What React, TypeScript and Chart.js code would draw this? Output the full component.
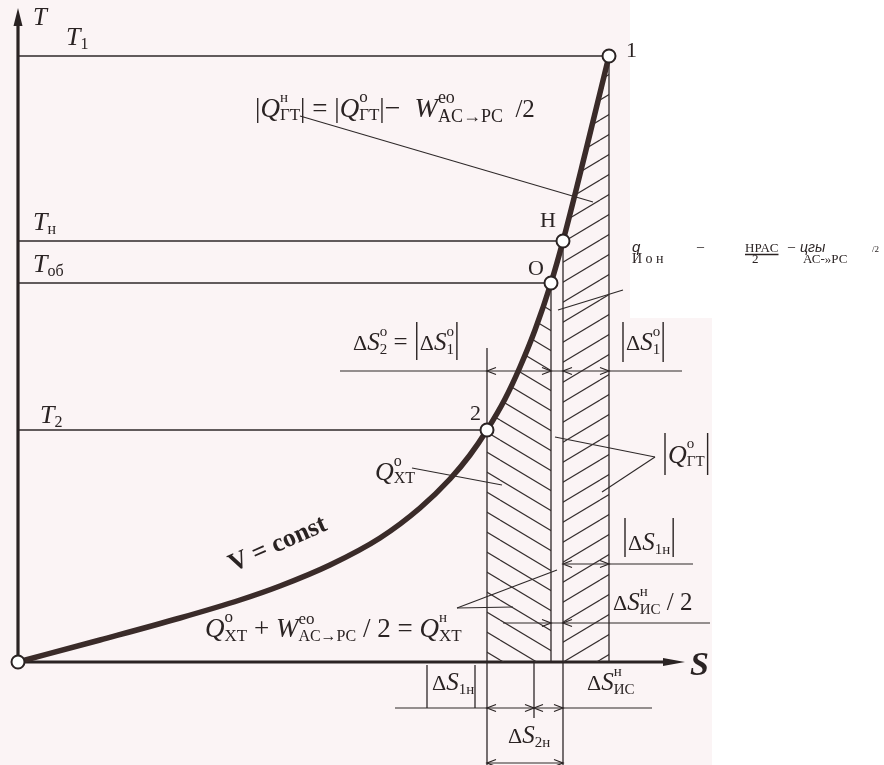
import React, { useEffect, useRef } from 'react';
import { Chart, registerables } from 'chart.js';

Chart.register(...registerables);

// ---------- data (T–S diagram, arbitrary units) ----------
const curveS = [0, 0.82, 1.62, 2.22, 2.62, 3.12, 3.62, 4.02, 4.32, 4.52, 4.69, 4.87, 5.02, 5.17, 5.33, 5.45, 5.68, 5.91];
const curveT = [0, 0.22, 0.44, 0.62, 0.76, 0.97, 1.24, 1.54, 1.83, 2.07, 2.32, 2.63, 2.95, 3.32, 3.79, 4.21, 5.12, 6.06];

const keyLabels = ['', '2', 'O', 'H', '1'];
const keyS = [0, 4.69, 5.33, 5.45, 5.91];
const keyT = [0, 2.32, 3.79, 4.21, 6.06];

const levelSub = ['1', 'н', 'об', '2'];
const levelT = [6.06, 4.21, 3.79, 2.32];
const levelEndS = [5.91, 5.45, 5.33, 4.69];

const axisTopT = 6.46;
const axisEndS = 6.55;
const axisTipT = 6.54;
const axisTipS = 6.67;

// vertical guide lines
const guideS = [4.69, 5.33, 5.45, 5.91, 5.16, 4.09, 4.57];
const guideTop = [3.14, 3.79, 4.21, 6.06, 0, -0.03, -0.03];
const guideBottom = [-1.03, 0, -1.03, 0, -0.56, -0.46, -0.46];

// dimension lines
const dimT = [2.91, 0.98, 0.39, -0.46, -1.01];
const dimFrom = [3.22, 5.47, 4.85, 3.77, 4.69];
const dimTo = [6.64, 6.75, 6.92, 6.34, 5.45];

// arrowheads on dimension lines (dir: +1 tip points right, -1 tip points left)
const arrowS = [4.69, 5.33, 5.45, 5.91, 5.45, 5.91, 5.33, 5.45, 4.69, 5.16, 5.16, 5.45, 4.69, 5.45];
const arrowT = [2.91, 2.91, 2.91, 2.91, 0.98, 0.98, 0.39, 0.39, -0.46, -0.46, -0.46, -0.46, -1.01, -1.01];
const arrowDir = [-1, 1, -1, 1, -1, 1, 1, -1, -1, 1, -1, 1, -1, 1];

// leader lines
const leaderS0 = [2.82, 3.94, 4.39, 4.39, 6.37, 6.37, 6.05];
const leaderT0 = [5.46, 1.94, 0.54, 0.54, 2.05, 2.05, 3.72];
const leaderS1 = [5.75, 4.84, 5.39, 4.95, 5.37, 5.84, 5.4];
const leaderT1 = [4.6, 1.77, 0.92, 0.55, 2.25, 1.7, 3.52];

// ---------- text helpers ----------
type Seg = { t?: string; f?: string; s?: number; dy?: number; hold?: boolean; bar?: [number, number]; gap?: number; ff?: string; ul?: boolean };
const SERIF = '"Liberation Serif", "DejaVu Serif", serif';
const SANS = '"Liberation Sans", "DejaVu Sans", sans-serif';
const it = (t: string, s: number, dy = 0, hold = false): Seg => ({ t, f: 'italic', s, dy, hold });
const rm = (t: string, s: number, dy = 0, hold = false): Seg => ({ t, f: 'normal', s, dy, hold });
const bar = (a: number, b: number, gap = 3): Seg => ({ bar: [a, b], gap });

const INK = '#2a2323';
const PAPER = '#fbf4f5';

type Note = { s: number; t: number; segs: Seg[]; rot?: number };

const notes: Note[] = [
  { s: 0.15, t: 6.37, segs: [it('T', 25)] },
  {
    s: 2.37, t: 5.45,
    segs: [rm('|', 27), it('Q', 27), rm('н', 15, -15, true), rm('ГТ', 17, 3), rm('|', 27), rm(' = ', 27), rm('|', 27), it('Q', 27),
      rm('o', 17, -15, true), rm('ГТ', 17, 3), rm('|', 27), rm('−  ', 28), it('W', 28), rm('eo', 18, -14, true), rm('AC→PC', 18, 5), rm('  /2', 25)],
  },
  {
    s: 3.35, t: 3.12,
    segs: [rm('Δ', 22), it('S', 25), rm('o', 15, -14, true), rm('2', 15, 4), rm(' = ', 25), bar(-28, 10), rm('Δ', 22), it('S', 25),
      rm('o', 15, -14, true), rm('1', 15, 4), bar(-28, 10)],
  },
  { s: 6.02, t: 3.12, segs: [bar(-28, 12), rm('Δ', 22), it('S', 25), rm('o', 15, -14, true), rm('1', 15, 4), bar(-28, 12)] },
  { s: 6.44, t: 1.99, segs: [bar(-30, 12), it('Q', 26), rm('o', 15, -15, true), rm('ГТ', 15, 3), bar(-30, 12)] },
  { s: 6.04, t: 1.12, segs: [bar(-32, 7), rm('Δ', 22), it('S', 25), rm('1н', 15, 4), bar(-32, 7)] },
  { s: 5.95, t: 0.52, segs: [rm('Δ', 22), it('S', 25), rm('н', 15, -14, true), rm('ИС', 15, 4), rm(' / 2', 25)] },
  { s: 4.14, t: -0.28, segs: [rm('Δ', 22), it('S', 25), rm('1н', 15, 4)] },
  { s: 5.69, t: -0.28, segs: [rm('Δ', 22), it('S', 25), rm('н', 15, -14, true), rm('ИС', 15, 4)] },
  { s: 4.9, t: -0.81, segs: [rm('Δ', 22), it('S', 25), rm('2н', 15, 4)] },
  { s: 6.72, t: -0.13, segs: [{ t: 'S', f: 'italic bold', s: 34 }] },
  { s: 2.15, t: 0.9, rot: -24, segs: [{ t: 'V = const', f: 'bold', s: 26 }] },
  { s: 3.57, t: 1.82, segs: [it('Q', 26), rm('o', 16, -14, true), rm('XT', 16, 3)] },
  {
    s: 1.87, t: 0.25,
    segs: [it('Q', 27), rm('o', 17, -15, true), rm('XT', 17, 4), rm(' + ', 27), it('W', 27), rm('eo', 17, -13, true), rm('AC→PC', 16, 4),
      rm(' / 2 = ', 27), it('Q', 27), rm('н', 15, -15, true), rm('XT', 17, 4)],
  },
  // OCR overlay text (right side)
  { s: 6.14, t: 4.1, segs: [{ t: 'q', f: 'italic', s: 15, ff: SANS }] },
  { s: 6.14, t: 3.99, segs: [rm('И о н', 14)] },
  { s: 6.79, t: 4.16, segs: [rm('_', 14)] },
  { s: 7.27, t: 4.1, segs: [{ t: 'HPAC', f: 'normal', s: 13, ul: true }] },
  { s: 7.34, t: 3.99, segs: [rm('2', 13)] },
  { s: 7.7, t: 4.16, segs: [rm('_', 14)] },
  { s: 7.82, t: 4.1, segs: [{ t: 'цгы', f: 'italic', s: 14, ff: SANS }] },
  { s: 7.85, t: 3.99, segs: [rm('АС-»РС', 13)] },
  { s: 8.54, t: 4.1, segs: [rm('/2', 9)] },
];

const levelLabelS = [0.48, 0.15, 0.15, 0.22];
const levelLabelT = [6.17, 4.32, 3.9, 2.39];
const keyLabelS = [0, 4.52, 5.1, 5.22, 6.08];
const keyLabelT = [0, 2.42, 3.87, 4.35, 6.05];

function drawRich(ctx: CanvasRenderingContext2D, x: number, y: number, segs: Seg[]) {
  let cx = x;
  for (const g of segs) {
    if (g.bar) {
      const gap = g.gap ?? 3;
      const bx = cx + gap;
      ctx.beginPath();
      ctx.moveTo(bx, y + g.bar[0]);
      ctx.lineTo(bx, y + g.bar[1]);
      ctx.stroke();
      cx = bx + gap;
      continue;
    }
    ctx.font = `${g.f} ${g.s}px ${g.ff ?? SERIF}`;
    ctx.fillText(g.t as string, cx, y + (g.dy ?? 0));
    const w = ctx.measureText(g.t as string).width;
    if (g.ul) {
      ctx.beginPath();
      ctx.moveTo(cx, y + 2.5);
      ctx.lineTo(cx + w, y + 2.5);
      ctx.stroke();
    }
    if (!g.hold) cx += w;
  }
}

function makeHatch(ctx: CanvasRenderingContext2D, dir: number): CanvasPattern | string {
  const c = document.createElement('canvas');
  c.width = 100;
  c.height = 20;
  const g = c.getContext('2d');
  if (!g) return 'rgba(0,0,0,0)';
  g.strokeStyle = '#352e2e';
  g.lineWidth = 1.2;
  for (let k = -4; k <= 2; k++) {
    g.beginPath();
    if (dir === 1) {
      g.moveTo(0, 20 * k);
      g.lineTo(100, 20 * k + 60);
    } else {
      g.moveTo(0, 20 * k + 60);
      g.lineTo(100, 20 * k);
    }
    g.stroke();
  }
  return ctx.createPattern(c, 'repeat') || 'rgba(0,0,0,0)';
}

const paperRightS = 6.94;
const boxLeftS = 6.12;
const boxBottomT = 3.44;

const decor = {
  id: 'decor',
  beforeDraw(chart: any) {
    const { ctx } = chart;
    const X = (v: number) => chart.scales.x.getPixelForValue(v);
    const Y = (v: number) => chart.scales.y.getPixelForValue(v);
    ctx.save();
    ctx.fillStyle = '#ffffff';
    ctx.fillRect(0, 0, chart.width, chart.height);
    ctx.fillStyle = PAPER;
    ctx.fillRect(0, 0, X(paperRightS), chart.height);
    ctx.fillStyle = '#ffffff';
    ctx.fillRect(X(boxLeftS), 0, chart.width, Y(boxBottomT));
    ctx.restore();
  },
  afterDatasetsDraw(chart: any) {
    const { ctx } = chart;
    const X = (v: number) => chart.scales.x.getPixelForValue(v);
    const Y = (v: number) => chart.scales.y.getPixelForValue(v);
    ctx.save();
    ctx.fillStyle = INK;
    ctx.strokeStyle = INK;
    // axis arrowheads
    ctx.beginPath();
    ctx.moveTo(X(0), Y(axisTipT));
    ctx.lineTo(X(0) - 4.5, Y(axisTipT) + 18);
    ctx.lineTo(X(0) + 4.5, Y(axisTipT) + 18);
    ctx.closePath();
    ctx.fill();
    ctx.beginPath();
    ctx.moveTo(X(axisTipS), Y(0));
    ctx.lineTo(X(axisTipS) - 22, Y(0) - 4);
    ctx.lineTo(X(axisTipS) - 22, Y(0) + 4);
    ctx.closePath();
    ctx.fill();
    // dimension arrowheads
    ctx.lineWidth = 1.2;
    for (let i = 0; i < arrowS.length; i++) {
      const x = X(arrowS[i]);
      const y = Y(arrowT[i]);
      const d = arrowDir[i];
      ctx.beginPath();
      ctx.moveTo(x - d * 9, y - 3.5);
      ctx.lineTo(x, y);
      ctx.lineTo(x - d * 9, y + 3.5);
      ctx.stroke();
    }
    // texts
    ctx.lineWidth = 1.4;
    ctx.textBaseline = 'alphabetic';
    for (let i = 0; i < levelSub.length; i++) {
      drawRich(ctx, X(levelLabelS[i]), Y(levelLabelT[i]), [it('T', 26), rm(levelSub[i], 16, 4)]);
    }
    for (let i = 0; i < keyLabels.length; i++) {
      if (!keyLabels[i]) continue;
      drawRich(ctx, X(keyLabelS[i]), Y(keyLabelT[i]), [rm(keyLabels[i], 22)]);
    }
    for (const n of notes) {
      ctx.save();
      ctx.translate(X(n.s), Y(n.t));
      if (n.rot) ctx.rotate((n.rot * Math.PI) / 180);
      drawRich(ctx, 0, 0, n.segs);
      ctx.restore();
    }
    ctx.restore();
  },
};

const THIN = '#2e2929';

function seg(x0: number, y0: number, x1: number, y1: number, w = 1.3, color = THIN, order = 3) {
  return {
    data: [{ x: x0, y: y0 }, { x: x1, y: y1 }],
    borderColor: color,
    borderWidth: w,
    pointRadius: 0,
    fill: false,
    tension: 0,
    order,
  };
}

export default function App() {
  const ref = useRef<HTMLCanvasElement>(null);
  useEffect(() => {
    const canvas = ref.current;
    if (!canvas) return;
    const c2d = canvas.getContext('2d') as CanvasRenderingContext2D;
    const patA = makeHatch(c2d, 1);
    const patB = makeHatch(c2d, -1);
    const i2 = curveS.indexOf(keyS[1]);
    const iO = curveS.indexOf(keyS[2]);
    const iH = curveS.indexOf(keyS[3]);
    const i1 = curveS.indexOf(keyS[4]);

    const datasets: any[] = [];
    datasets.push({
      data: keyS.map((s, i) => ({ x: s, y: keyT[i] })),
      showLine: false,
      pointRadius: 6.5,
      pointBackgroundColor: '#ffffff',
      pointBorderColor: INK,
      pointBorderWidth: 2,
      order: 0,
    });
    datasets.push({
      data: curveS.map((s, i) => ({ x: s, y: curveT[i] })),
      borderColor: '#3a2b29',
      borderWidth: 5.5,
      pointRadius: 0,
      cubicInterpolationMode: 'monotone',
      fill: 'origin',
      backgroundColor: 'rgba(0,0,0,0)',
      segment: {
        backgroundColor: (c: any) => {
          const k = c.p0DataIndex;
          if (k >= i2 && k < iO) return patA;
          if (k >= iH && k < i1) return patB;
          return 'rgba(0,0,0,0)';
        },
      },
      order: 1,
    });
    datasets.push(seg(0, 0, 0, axisTopT, 3.2, INK, 2));
    datasets.push(seg(0, 0, axisEndS, 0, 3.2, INK, 2));
    for (let i = 0; i < levelT.length; i++) datasets.push(seg(0, levelT[i], levelEndS[i], levelT[i]));
    for (let i = 0; i < guideS.length; i++) datasets.push(seg(guideS[i], guideTop[i], guideS[i], guideBottom[i]));
    for (let i = 0; i < dimT.length; i++) datasets.push(seg(dimFrom[i], dimT[i], dimTo[i], dimT[i], 1.2));
    for (let i = 0; i < leaderS0.length; i++) datasets.push(seg(leaderS0[i], leaderT0[i], leaderS1[i], leaderT1[i], 1.1));

    const chart = new Chart(canvas, {
      type: 'line',
      data: { datasets },
      plugins: [decor],
      options: {
        responsive: false,
        animation: false,
        devicePixelRatio: 1,
        events: [],
        layout: { padding: 0, autoPadding: false },
        scales: {
          x: { type: 'linear', min: -0.18, max: 8.66, display: false },
          y: { type: 'linear', min: -1.03, max: 6.62, display: false },
        },
        plugins: { legend: { display: false }, tooltip: { enabled: false } },
      } as any,
    });
    return () => chart.destroy();
  }, []);
  return (
    <div style={{ position: 'fixed', left: 0, top: 0, width: 884, height: 765 }}>
      <canvas ref={ref} width={884} height={765} style={{ display: 'block', width: 884, height: 765 }} />
    </div>
  );
}
